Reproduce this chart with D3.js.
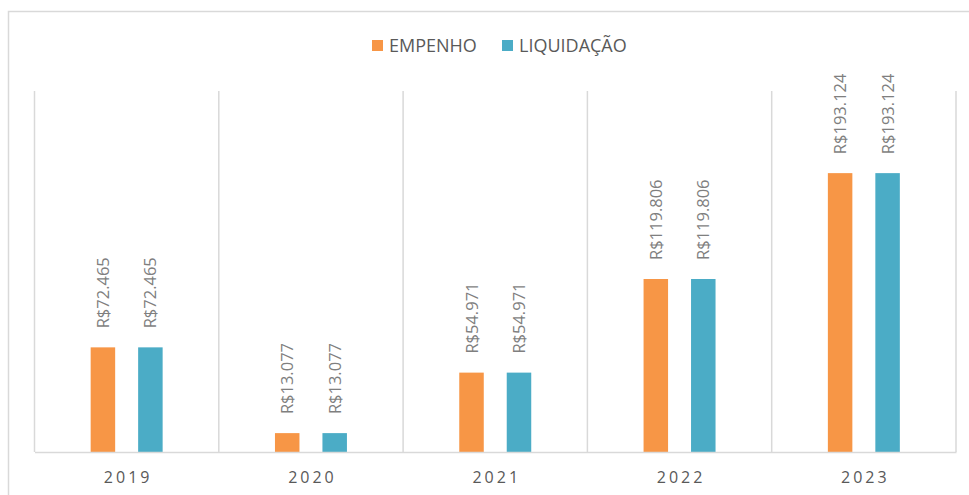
<!DOCTYPE html>
<html>
<head>
<meta charset="utf-8">
<script src="https://cdn.jsdelivr.net/npm/d3@7"></script>
<style>
  body { margin: 0; background: #fff; }
  svg { display: block; font-family: "Open Sans", sans-serif; }
</style>
</head>
<body>
<svg id="chart" width="969" height="495"></svg>
<script>
// data (thousands of R$)
var years = ["2019", "2020", "2021", "2022", "2023"];
var empenho = [72.465, 13.077, 54.971, 119.806, 193.124];
var liquidacao = [72.465, 13.077, 54.971, 119.806, 193.124];
var seriesNames = ["EMPENHO", "LIQUIDAÇÃO"];
var colors = ["#F79646", "#4BACC6"];

var svg = d3.select("#chart");
var margin = {left: 34.5, right: 13, top: 91, bottom: 43};
var W = 969, H = 495;

// outer chart border (only top and left visible in the crop)
svg.append("path")
  .attr("d", "M8.5,495 V11.5 H969")
  .attr("fill", "none").attr("stroke", "#d9d9d9").attr("stroke-width", 1.5);

var x = d3.scaleBand().domain(years).range([margin.left, W - margin.right]);
var xs = d3.scaleBand().domain(seriesNames).range([0, x.bandwidth()]).paddingInner(0.484).paddingOuter(1.183);
var y = d3.scaleLinear().domain([0, 250]).range([H - margin.bottom, margin.top]);

// vertical separators between categories
var seps = years.map(function(d) { return x(d); }).concat([x(years[years.length - 1]) + x.bandwidth()]);
svg.append("g").selectAll("line").data(seps).join("line")
  .attr("x1", function(d) { return d; }).attr("x2", function(d) { return d; })
  .attr("y1", y(250)).attr("y2", y(0))
  .attr("stroke", "#d9d9d9").attr("stroke-width", 1.5);

var rows = [];
years.forEach(function(yr, i) {
  rows.push({year: yr, s: seriesNames[0], v: empenho[i], c: colors[0]});
  rows.push({year: yr, s: seriesNames[1], v: liquidacao[i], c: colors[1]});
});

svg.append("g").selectAll("rect").data(rows).join("rect")
  .attr("x", function(d) { return x(d.year) + xs(d.s); })
  .attr("width", xs.bandwidth())
  .attr("y", function(d) { return y(d.v); })
  .attr("height", function(d) { return y(0) - y(d.v); })
  .attr("fill", function(d) { return d.c; });

// value labels, rotated
svg.append("g").selectAll("text").data(rows).join("text")
  .attr("transform", function(d) {
    var cx = x(d.year) + xs(d.s) + xs.bandwidth() / 2;
    return "translate(" + (cx + 6) + "," + (y(d.v) - 19) + ") rotate(-90)";
  })
  .attr("font-size", 16.5).attr("fill", "#7f7f7f")
  .text(function(d) { return "R$" + d3.format(".3f")(d.v); });

// x axis
var xAxis = svg.append("g").attr("transform", "translate(0," + y(0) + ")")
  .call(d3.axisBottom(x).tickSize(0));
xAxis.select(".domain").attr("stroke", "#d9d9d9").attr("stroke-width", 1.5);
xAxis.selectAll("text").attr("font-size", 16).attr("fill", "#595959")
  .attr("y", 31).attr("dy", null).attr("dx", "1.5px")
  .attr("letter-spacing", "3px").attr("font-family", "Open Sans, sans-serif");

// legend
var legend = svg.append("g").attr("transform", "translate(372,40)");
var lx = [0, 130];
seriesNames.forEach(function(name, i) {
  var g = legend.append("g").attr("transform", "translate(" + lx[i] + ",0)");
  g.append("rect").attr("width", 11).attr("height", 11).attr("fill", colors[i]);
  g.append("text").attr("x", 17).attr("y", 12).attr("font-size", 18).attr("fill", "#595959").text(name);
});
</script>
</body>
</html>
